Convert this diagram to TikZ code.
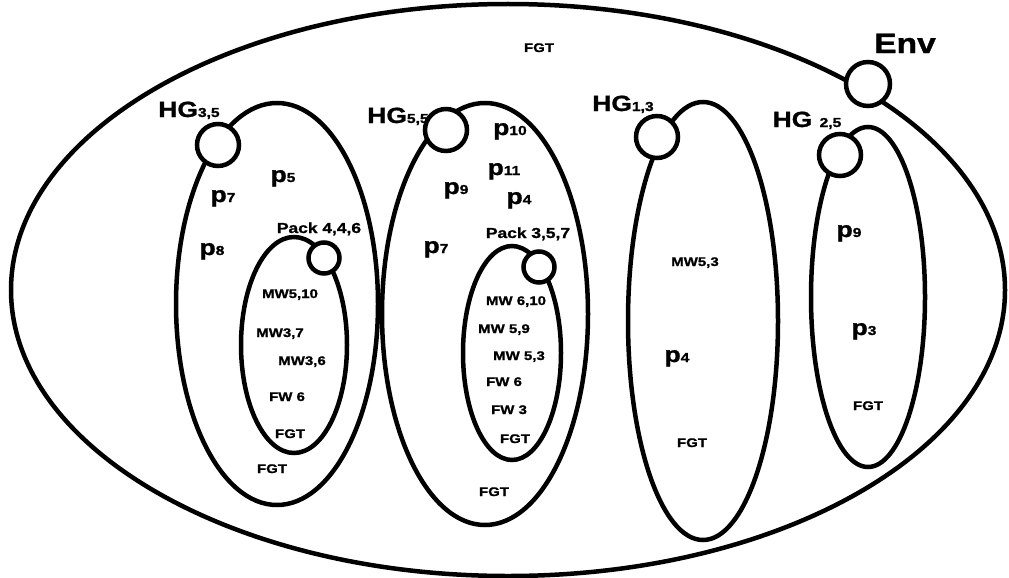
\documentclass[tikz,border=0pt]{standalone}
\usepackage{fontspec}
\setmainfont{Liberation Sans}[FakeStretch=1.2, BoldFeatures={FakeBold=1.2}]
\usetikzlibrary{shapes.geometric}

% smaller index set on the baseline
\newcommand{\ix}[1]{{\fontsize{13}{13}\selectfont #1}}

\begin{document}
\begin{tikzpicture}[
    x=1pt, y=-1pt,
    set/.style={draw, ellipse, line width=4.5pt, inner sep=0pt},
    hook/.style={draw, circle, line width=4.5pt, fill=white, inner sep=0pt},
    grp/.style={anchor=base, font=\fontsize{22}{22}\selectfont\bfseries},
    elem/.style={anchor=base, font=\fontsize{22}{22}\selectfont\bfseries},
    pck/.style={anchor=base, font=\fontsize{14.5}{14.5}\selectfont\bfseries},
    tag/.style={anchor=base, font=\fontsize{12.5}{12.5}\selectfont\bfseries},
  ]
  \useasboundingbox (0,0) rectangle (1009,578);

  % ============================== Environment =============================
  \node[set, minimum width=994pt, minimum height=572pt] (outer) at (508,290) {};

  % ============================== Group 1 =================================
  \begin{scope}
    \node[set, minimum width=202pt, minimum height=402pt] (g1) at (277,304) {};
    \node[set, minimum width=106pt, minimum height=216pt] (pk1) at (294,345) {};
    \node[hook, minimum size=42pt] (hg1) at (218,145) {};
    \node[hook, minimum size=31pt] (pc1) at (324,258) {};

    \node[grp] (hg1l) at (189,117) {HG\ix{3,5}};
    \node[elem] (g1p5) at (283,182) {p\ix{5}};
    \node[elem] (g1p7) at (223,202) {p\ix{7}};
    \node[elem] (g1p8) at (212,255) {p\ix{8}};
    \node[pck] (pk1l) at (319,233) {Pack 4,4,6};
    \node[tag] (pk1a) at (290,298) {MW5,10};
    \node[tag] (pk1b) at (280,337) {MW3,7};
    \node[tag] (pk1c) at (302,365) {MW3,6};
    \node[tag] (pk1d) at (287,401) {FW 6};
    \node[tag] (pk1e) at (290,438) {FGT};
    \node[tag] (g1f) at (272,473) {FGT};
  \end{scope}

  % ============================== Group 2 =================================
  \begin{scope}
    \node[set, minimum width=206pt, minimum height=422pt] (g2) at (485,314) {};
    \node[set, minimum width=98pt, minimum height=214pt] (pk2) at (512,353) {};
    \node[hook, minimum size=42pt] (hg2) at (446,130) {};
    \node[hook, minimum size=31pt] (pc2) at (539,267) {};

    \node[grp] (hg2l) at (398,123) {HG\ix{5,5}};
    \node[elem] (g2p10) at (510,135) {p\ix{10}};
    \node[elem] (g2p11) at (504,175) {p\ix{11}};
    \node[elem] (g2p9) at (456,194) {p\ix{9}};
    \node[elem] (g2p4) at (519,204) {p\ix{4}};
    \node[elem] (g2p7) at (436,253) {p\ix{7}};
    \node[pck] (pk2l) at (528,238) {Pack 3,5,7};
    \node[tag] (pk2a) at (516,305) {MW 6,10};
    \node[tag] (pk2b) at (504,333) {MW 5,9};
    \node[tag] (pk2c) at (519,360) {MW 5,3};
    \node[tag] (pk2d) at (504,386) {FW 6};
    \node[tag] (pk2e) at (509,414) {FW 3};
    \node[tag] (pk2f) at (515,443) {FGT};
    \node[tag] (g2f) at (494,496) {FGT};
  \end{scope}

  % ============================== Group 3 =================================
  \begin{scope}
    \node[set, minimum width=150pt, minimum height=438pt] (g3) at (703,321) {};
    \node[hook, minimum size=42pt] (hg3) at (657,137) {};

    \node[grp] (hg3l) at (623,111) {HG\ix{1,3}};
    \node[tag] (g3a) at (695,266) {MW5,3};
    \node[elem] (g3p4) at (677,362) {p\ix{4}};
    \node[tag] (g3f) at (692,447) {FGT};
  \end{scope}

  % ============================== Group 4 =================================
  \begin{scope}
    \node[set, minimum width=114pt, minimum height=340pt] (g4) at (868,297) {};
    \node[hook, minimum size=42pt] (hg4) at (840,155) {};

    \node[grp] (hg4l) at (807,127) {HG \ix{2,5}};
    \node[elem] (g4p9) at (849,237) {p\ix{9}};
    \node[elem] (g4p3) at (864,335) {p\ix{3}};
    \node[tag] (g4f) at (868,410) {FGT};
  \end{scope}

  % ============================== Env hook ================================
  \node[hook, minimum size=44pt] (env) at (868,84) {};
  \node[anchor=base, font=\fontsize{28}{28}\selectfont\bfseries] (envl) at (905,53) {Env};
  \node[tag] (topf) at (539,52) {FGT};
\end{tikzpicture}
\end{document}
